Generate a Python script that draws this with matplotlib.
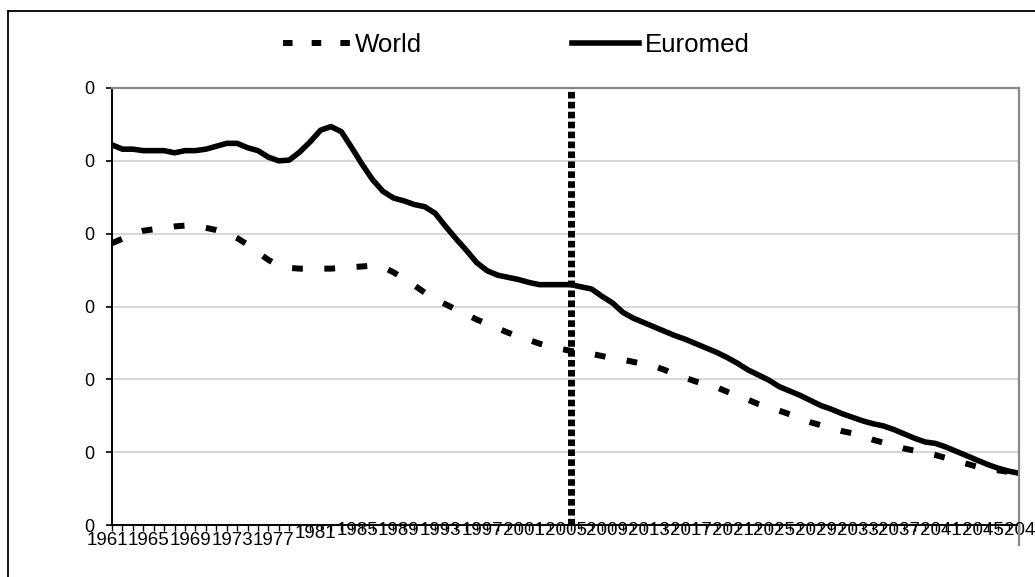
import matplotlib
matplotlib.use('Agg')
import matplotlib.pyplot as plt
import matplotlib.ticker as mticker
import matplotlib.transforms as mtransforms
from matplotlib.lines import Line2D
import numpy as np

# population growth rate, % per year
years = list(range(1961, 2049))

world = [1.935, 1.965, 2.00, 2.02, 2.03, 2.04, 2.05, 2.055, 2.05, 2.04,
         2.025, 2.005, 1.97, 1.925, 1.87, 1.82, 1.78, 1.765, 1.76, 1.76,
         1.76, 1.76, 1.765, 1.77, 1.775, 1.78, 1.77, 1.735, 1.69, 1.645,
         1.595, 1.55, 1.515, 1.48, 1.445, 1.41, 1.38, 1.35, 1.32, 1.295,
         1.27, 1.245, 1.225, 1.21, 1.195, 1.185, 1.175, 1.16, 1.145, 1.135,
         1.12, 1.105, 1.09, 1.065, 1.035, 1.01, 0.985, 0.965, 0.945, 0.915,
         0.885, 0.86, 0.83, 0.805, 0.785, 0.76, 0.73, 0.705, 0.685, 0.665,
         0.645, 0.63, 0.61, 0.585, 0.565, 0.545, 0.525, 0.51, 0.495, 0.48,
         0.46, 0.44, 0.42, 0.40, 0.385, 0.375, 0.365, 0.355]

euromed = [2.61, 2.58, 2.58, 2.57, 2.57, 2.57, 2.555, 2.57, 2.57, 2.58,
           2.60, 2.62, 2.62, 2.59, 2.57, 2.525, 2.50, 2.505, 2.56, 2.63,
           2.71, 2.735, 2.70, 2.59, 2.475, 2.37, 2.29, 2.245, 2.225, 2.20,
           2.185, 2.14, 2.05, 1.965, 1.885, 1.80, 1.745, 1.715, 1.70, 1.685,
           1.665, 1.65, 1.65, 1.65, 1.65, 1.635, 1.62, 1.57, 1.525, 1.46,
           1.42, 1.39, 1.36, 1.33, 1.30, 1.275, 1.245, 1.215, 1.185, 1.15,
           1.11, 1.065, 1.03, 0.995, 0.95, 0.92, 0.89, 0.855, 0.82, 0.795,
           0.765, 0.74, 0.715, 0.695, 0.68, 0.655, 0.625, 0.595, 0.57, 0.56,
           0.535, 0.505, 0.475, 0.445, 0.415, 0.39, 0.37, 0.355]

cut_year = 2005
label_years = list(range(1961, 2050, 4))
y_ticks = [0, 0.005, 0.01, 0.015, 0.02, 0.025, 0.03]

plt.rcParams['font.family'] = ['Liberation Sans', 'DejaVu Sans']

fig = plt.figure(figsize=(10.35, 5.77), dpi=100)
ax = fig.add_axes([112/1035, 52/577, 907/1035, 437/577])

# outer chart border (runs off the right and bottom of the image)
fig.add_artist(Line2D([8/1035, 8/1035], [0, 1 - 11/577], color='black', lw=1.3,
                      transform=fig.transFigure))
fig.add_artist(Line2D([8/1035, 1], [1 - 11/577, 1 - 11/577], color='black', lw=1.3,
                      transform=fig.transFigure))
# grey plot-area edge on the right goes on below the axis
fig.add_artist(Line2D([1019/1035, 1019/1035], [1 - 545/577, 52/577], color='#8a8a8a',
                      lw=1.6, transform=fig.transFigure))

x = np.array(years)
ax.plot(x, np.array(world)/100, color='black', lw=4.3, linestyle=(0, (1.8, 3.6)),
        label='World', zorder=2)
ax.plot(x, np.array(euromed)/100, color='black', lw=4.0, label='Euromed', zorder=2)
ax.axvline(cut_year, color='black', lw=5, linestyle=(0, (0.95, 0.48)), zorder=3)

ax.set_xlim(years[0], years[-1])
ax.set_ylim(y_ticks[0], y_ticks[-1])

# y axis: every gridline is labelled with the "0" format
ax.set_yticks(y_ticks)
ax.yaxis.set_major_formatter(mticker.FormatStrFormatter('%.0f'))
ax.grid(True, axis='y', color='#cfcfcf', lw=1.2, zorder=0)
ax.tick_params(axis='y', direction='out', length=4, width=1.2, pad=9, labelsize=13)

# x axis: a tick every year, a label every 4 years
shown = [yr for yr in label_years if yr <= years[-1]]
ax.set_xticks(shown)
ax.set_xticklabels([str(yr) for yr in shown])
ax.set_xticks(years, minor=True)
ax.tick_params(axis='x', which='both', direction='out', length=4, width=1.0,
               pad=1, labelsize=13.5)

for sp in ['left', 'bottom']:
    ax.spines[sp].set_color('black')
    ax.spines[sp].set_linewidth(1.4)
for sp in ['top', 'right']:
    ax.spines[sp].set_color('#8a8a8a')
    ax.spines[sp].set_linewidth(1.6)

# labels sit a little left of their ticks; the ones after 1977 sit higher,
# over the axis line
for lab, yr in zip(ax.get_xticklabels(), shown):
    if yr == 1981:
        dy = 7
    elif yr > 1981:
        dy = 10
    else:
        dy = 0
    lab.set_transform(lab.get_transform() +
                      mtransforms.ScaledTranslation(-5/100, dy/100, fig.dpi_scale_trans))

# last label falls past the end of the axis
for yr in label_years:
    if yr > years[-1]:
        ax.text(yr, 0, str(yr), fontsize=13.5, ha='center', va='top',
                transform=mtransforms.blended_transform_factory(ax.transData, ax.transAxes)
                + mtransforms.ScaledTranslation(-5/100, (10 - 7)/100, fig.dpi_scale_trans),
                clip_on=False)

leg = ax.legend(loc='center left', bbox_to_anchor=(283/1035, 1 - 45/577),
                bbox_transform=fig.transFigure, ncol=2, frameon=False,
                fontsize=18.6, handlelength=2.6, handletextpad=0.2,
                columnspacing=5.8, borderpad=0, borderaxespad=0)
leg.get_lines()[0].set_linestyle((0, (1.6, 3.2)))

fig.savefig('out.png', dpi=100)
